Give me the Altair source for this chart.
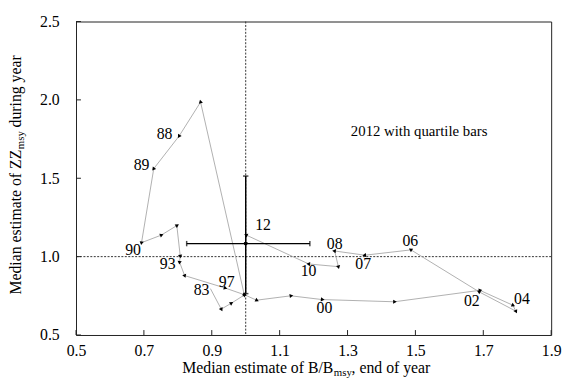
import math
import altair as alt
import pandas as pd

# ---------------- data ----------------
years = list(range(1983, 2013))
b_ratio = [0.896, 0.928, 0.957, 0.996, 0.867, 0.804, 0.729, 0.693, 0.751, 0.797,
           0.807, 0.805, 0.820, 0.939, 0.996, 1.032, 1.133, 1.225, 1.438, 1.690,
           1.787, 1.796, 1.688, 1.487, 1.351, 1.262, 1.273, 1.186, 1.002, 1.000]
z_ratio = [0.796, 0.665, 0.702, 0.755, 1.986, 1.770, 1.561, 1.089, 1.137, 1.198,
           1.005, 0.965, 0.879, 0.800, 0.757, 0.722, 0.750, 0.726, 0.712, 0.785,
           0.690, 0.652, 0.775, 1.043, 1.009, 1.036, 0.936, 0.953, 1.137, 1.083]

label_text = ["83", "88", "89", "90", "93", "97", "00", "02", "04", "06", "07", "08", "10", "12"]
label_x = [0.870, 0.761, 0.693, 0.668, 0.770, 0.944, 1.232, 1.666, 1.814, 1.485, 1.346, 1.262, 1.185, 1.051]
label_y = [0.785, 1.781, 1.582, 1.043, 0.953, 0.838, 0.674, 0.716, 0.728, 1.100, 0.953, 1.079, 0.911, 1.204]

q_center = (1.000, 1.083)
q_b = [0.826, 1.189]
q_z = [0.764, 1.514]

x_ticks = [0.5, 0.7, 0.9, 1.1, 1.3, 1.5, 1.7, 1.9]
y_ticks = [0.5, 1.0, 1.5, 2.0, 2.5]

note_text = "2012 with quartile bars"
note_pos = (1.511, 1.80)

# ---------------- layout ----------------
W, H = 482, 318
XD, YD = [0.5, 1.9], [0.5, 2.5]
FONT = "Liberation Serif"
px_x = W / (XD[1] - XD[0])
px_y = H / (YD[1] - YD[0])

xs = alt.Scale(domain=XD, nice=False, zero=False)
ys = alt.Scale(domain=YD, nice=False, zero=False)
x_axis = alt.Axis(values=x_ticks, format=".1f", title=None, labelPadding=8,
                  labelFlush=False, labelOverlap=False)
y_axis = alt.Axis(values=y_ticks, format=".1f", title=None, labelPadding=17,
                  labelOverlap=False)


def X(f):
    return alt.X(f, type="quantitative", scale=xs, axis=x_axis)


def Y(f):
    return alt.Y(f, type="quantitative", scale=ys, axis=y_axis)


traj = pd.DataFrame({"year": years, "b": b_ratio, "z": z_ratio})
angles = [0.0]
for i in range(1, len(years)):
    dx = (b_ratio[i] - b_ratio[i - 1]) * px_x
    dy = (z_ratio[i] - z_ratio[i - 1]) * px_y
    angles.append(math.degrees(math.atan2(dx, dy)) % 360)
traj["ang"] = angles
arrows = traj.iloc[1:]

labels = pd.DataFrame({"t": label_text, "b": label_x, "z": label_y})

refx = pd.DataFrame({"b": [1.0]})
refy = pd.DataFrame({"z": [1.0]})

line = alt.Chart(traj).mark_line(color="#b0b0b0", strokeWidth=1).encode(
    x=X("b"), y=Y("z"), order="year:Q")

heads = alt.Chart(arrows).mark_point(shape="triangle", filled=True, color="black",
                                     size=18, opacity=1).encode(
    x=X("b"), y=Y("z"), angle=alt.Angle("ang:Q", scale=None))

vref = alt.Chart(refx).mark_rule(color="#333333", strokeDash=[2, 1.5], strokeWidth=1).encode(
    x=X("b"))
href = alt.Chart(refy).mark_rule(color="#333333", strokeDash=[2, 1.5], strokeWidth=1).encode(
    y=Y("z"))

qh = alt.Chart(pd.DataFrame({"b1": [q_b[0]], "b2": [q_b[1]], "z": [q_center[1]]})).mark_rule(
    color="black", strokeWidth=1.5).encode(x=X("b1"), x2="b2", y=Y("z"))
qv = alt.Chart(pd.DataFrame({"z1": [q_z[0]], "z2": [q_z[1]], "b": [q_center[0]]})).mark_rule(
    color="black", strokeWidth=1.5).encode(y=Y("z1"), y2="z2", x=X("b"))
capsh = alt.Chart(pd.DataFrame({"b": q_b, "z": [q_center[1]] * 2})).mark_point(
    shape="stroke", angle=90, color="black", strokeWidth=1.5, size=30).encode(x=X("b"), y=Y("z"))
capsv = alt.Chart(pd.DataFrame({"b": [q_center[0]] * 2, "z": q_z})).mark_point(
    shape="stroke", color="black", strokeWidth=1.5, size=30).encode(x=X("b"), y=Y("z"))
qdot = alt.Chart(pd.DataFrame({"b": [q_center[0]], "z": [q_center[1]]})).mark_point(
    filled=True, color="black", size=14, opacity=1).encode(x=X("b"), y=Y("z"))

lab = alt.Chart(labels).mark_text(font=FONT, fontSize=16, color="black").encode(
    x=X("b"), y=Y("z"), text="t:N")

note = alt.Chart(pd.DataFrame({"t": [note_text], "b": [note_pos[0]], "z": [note_pos[1]]})).mark_text(
    font=FONT, fontSize=15, color="black").encode(x=X("b"), y=Y("z"), text="t:N")

xt = alt.Chart(pd.DataFrame({"b": x_ticks})).mark_rule(color="#222222", strokeWidth=1).encode(
    x=X("b"), y=alt.value(H), y2=alt.value(H - 5))
yt = alt.Chart(pd.DataFrame({"z": y_ticks})).mark_rule(color="#222222", strokeWidth=1).encode(
    y=Y("z"), x=alt.value(0), x2=alt.value(5))


def txt(t, **kw):
    return alt.Chart(pd.DataFrame({"t": [t]})).mark_text(font=FONT, color="black", **kw)


# x axis title with subscript
X1, XB = 261, 357
xt1 = txt("Median estimate of B/B", fontSize=16, align="right", baseline="alphabetic").encode(
    x=alt.value(X1), y=alt.value(XB), text="t:N")
xt2 = txt("msy", fontSize=11, align="left", baseline="alphabetic").encode(
    x=alt.value(X1 + 0.5), y=alt.value(XB + 3), text="t:N")
xt3 = txt(", end of year", fontSize=16, align="left", baseline="alphabetic").encode(
    x=alt.value(X1 + 18.5), y=alt.value(XB), text="t:N")

# y axis title with subscript (rotated)
YX, Y1 = -56, 130
yt1 = txt("Median estimate of ZZ", fontSize=16, align="right", baseline="alphabetic", angle=270).encode(
    x=alt.value(YX), y=alt.value(Y1), text="t:N")
yt2 = txt("msy", fontSize=11, align="left", baseline="alphabetic", angle=270).encode(
    x=alt.value(YX + 3), y=alt.value(Y1 - 0.5), text="t:N")
yt3 = txt("during year", fontSize=16, align="left", baseline="alphabetic", angle=270).encode(
    x=alt.value(YX), y=alt.value(Y1 - 22.5), text="t:N")

chart = alt.layer(
    vref, href, line, heads, qh, qv, capsh, capsv, qdot, lab, note, xt, yt,
    xt1, xt2, xt3, yt1, yt2, yt3
).properties(
    width=W, height=H,
    autosize=alt.AutoSizeParams(type="none"),
    padding={"left": 69, "top": 11, "right": 12, "bottom": 47},
).configure_view(
    stroke="#222222", strokeWidth=1
).configure_axis(
    labelFont=FONT, labelFontSize=16, labelColor="black",
    ticks=False, domain=False, grid=False
)

chart.save("out.html", embed_options={"renderer": "svg", "actions": False})
